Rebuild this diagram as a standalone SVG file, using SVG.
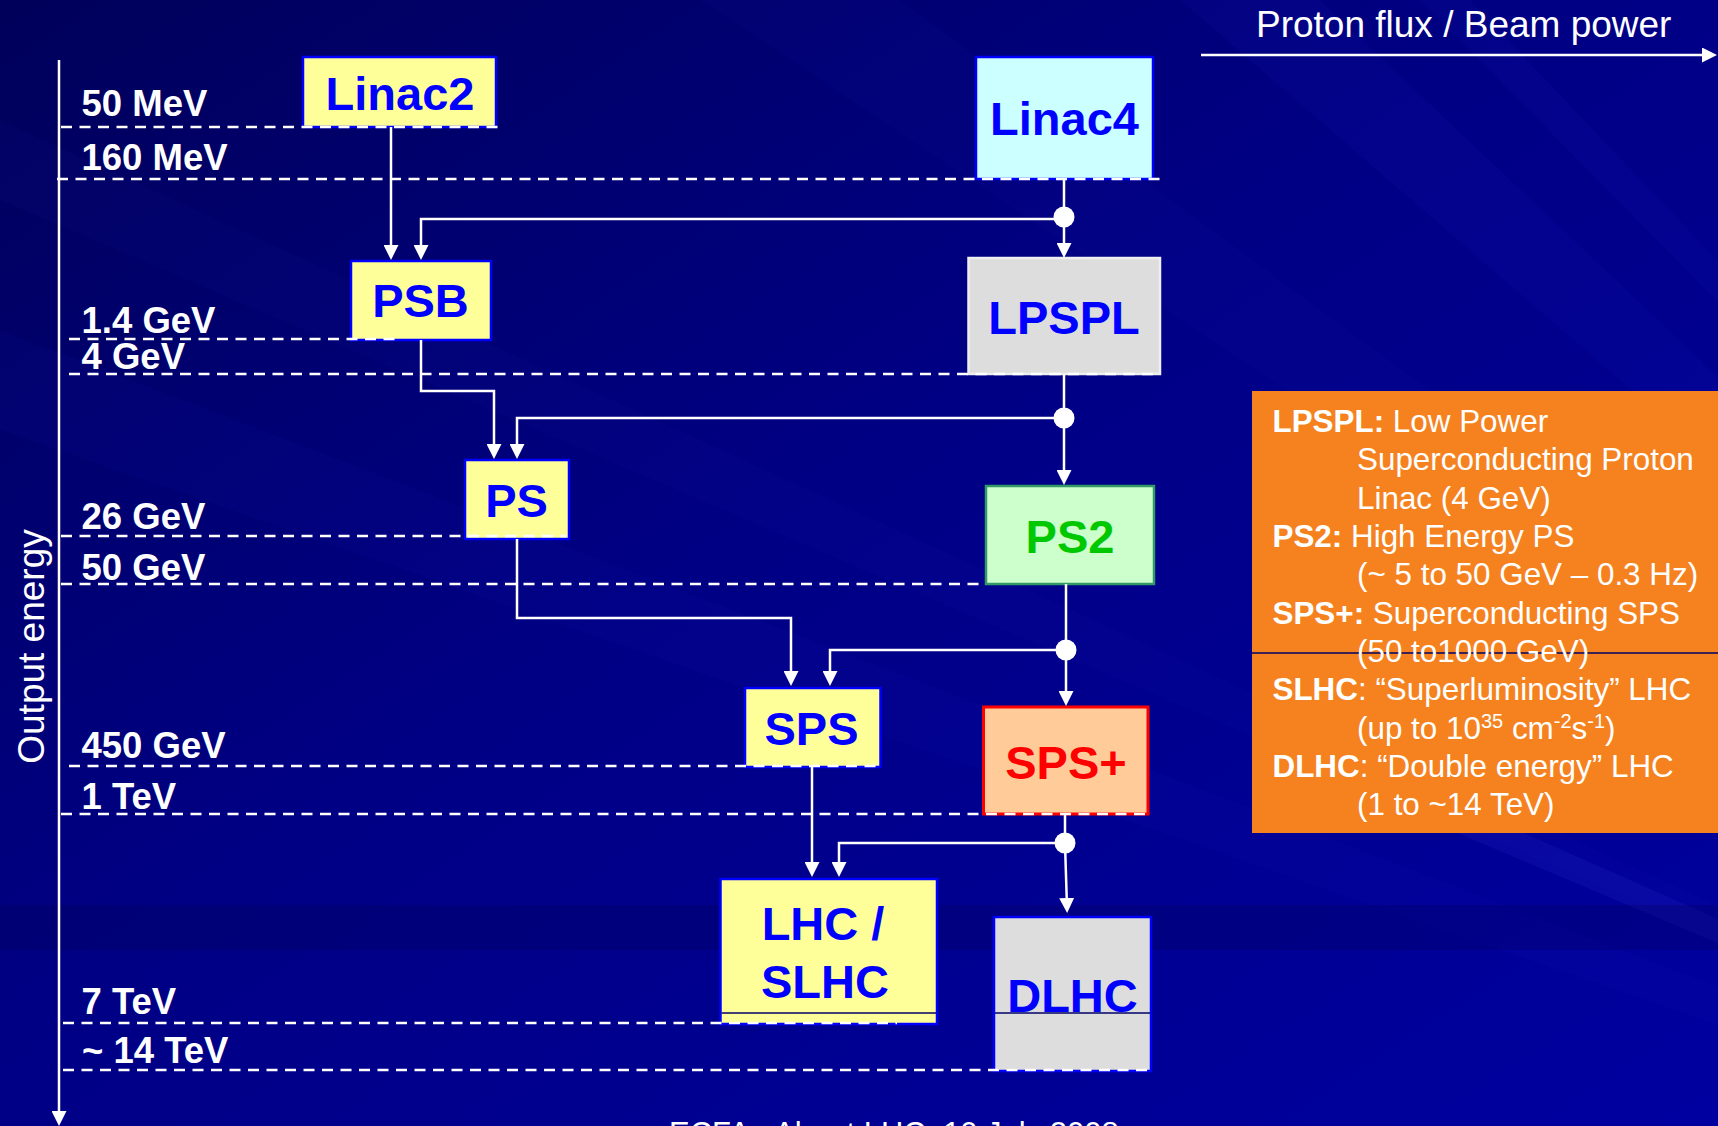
<svg xmlns="http://www.w3.org/2000/svg" width="1718" height="1126" viewBox="0 0 1718 1126">
  <defs>
    <linearGradient id="bg" x1="0" y1="0" x2="1" y2="1">
      <stop offset="0" stop-color="#00005A"/>
      <stop offset="0.45" stop-color="#000084"/>
      <stop offset="1" stop-color="#0000A0"/>
    </linearGradient>
    <marker id="arr" viewBox="0 0 15 15" markerWidth="15" markerHeight="15" refX="10" refY="7.5" orient="auto" markerUnits="userSpaceOnUse">
      <path d="M0,0 L15,7.5 L0,15 z" fill="#FFFFFF"/>
    </marker>
    <style>
      text { font-family: "Liberation Sans", Arial, sans-serif; }
      .lvl { fill: #FFFFFF; font-size: 36.5px; font-weight: bold; }
      .dash { stroke: #FFFFFF; stroke-width: 2.5; stroke-dasharray: 11 7.5; fill: none; }
      .conn { stroke: #FFFFFF; stroke-width: 2.5; fill: none; }
      .arrow { marker-end: url(#arr); }
      .dot { fill: #FFFFFF; }
      .box { stroke-width: 2.5; }
      .bt { font-size: 47px; font-weight: bold; text-anchor: middle; }
      .blue { fill: #0000FF; }
      .note { fill: #FFFFFF; font-size: 31.4px; }
      .b { font-weight: bold; }
      .sup { font-size: 20px; }
      .thin { stroke: #000066; stroke-width: 1.5; }
    </style>
  </defs>

  <!-- background -->
  <rect x="0" y="0" width="1718" height="1126" fill="url(#bg)"/>
  <g id="rays" fill="#2020C0">
    <polygon points="2800,1400 1180,0 1320,0" opacity="0.10"/>
    <polygon points="2800,1400 1420,0 1470,0" opacity="0.10"/>
    <polygon points="2800,1400 700,0 900,0" opacity="0.06"/>
    <polygon points="2800,1400 0,330 0,430" opacity="0.07"/>
    <polygon points="2800,1400 0,120 0,200" opacity="0.05"/>
    <polygon points="2800,1400 1450,800 1450,830" opacity="0.25"/>
  </g>
  <rect x="0" y="905" width="1718" height="45" fill="#000050" opacity="0.25"/>

  <!-- axes -->
  <g id="axis-energy">
    <line class="conn arrow" x1="59" y1="60" x2="59" y2="1121"/>
    <text x="0" y="0" transform="translate(44,646.5) rotate(-90)" fill="#FFFFFF" font-size="37" text-anchor="middle">Output energy</text>
  </g>
  <g id="axis-flux">
    <line class="conn arrow" x1="1201" y1="55" x2="1712" y2="55"/>
    <text x="1256" y="37" fill="#FFFFFF" font-size="37">Proton flux / Beam power</text>
  </g>

  <!-- nodes -->
  <g id="node-linac2">
    <rect class="box" x="303" y="57" width="193" height="70" fill="#FFFF99" stroke="#0000FF"/>
    <text class="bt blue" x="400" y="110">Linac2</text>
  </g>
  <g id="node-linac4">
    <rect class="box" x="976" y="57" width="177" height="122" fill="#CCFFFF" stroke="#0000FF"/>
    <text class="bt blue" x="1064.5" y="135">Linac4</text>
  </g>
  <g id="node-psb">
    <rect class="box" x="351" y="261" width="140" height="79" fill="#FFFF99" stroke="#0000FF"/>
    <text class="bt blue" x="420.5" y="317">PSB</text>
  </g>
  <g id="node-lpspl">
    <rect class="box" x="968.5" y="258" width="191.5" height="116" fill="#DDDDDD" stroke="#EEEEEE"/>
    <text class="bt blue" x="1064" y="334">LPSPL</text>
  </g>
  <g id="node-ps">
    <rect class="box" x="465" y="460" width="104" height="79" fill="#FFFF99" stroke="#0000FF"/>
    <text class="bt blue" x="516.5" y="517">PS</text>
  </g>
  <g id="node-ps2">
    <rect class="box" x="986" y="486" width="168" height="98" fill="#CCFFCC" stroke="#339966"/>
    <text class="bt" x="1070" y="553" fill="#00C800">PS2</text>
  </g>
  <g id="node-sps">
    <rect class="box" x="745" y="688" width="135.5" height="79" fill="#FFFF99" stroke="#0000FF"/>
    <text class="bt blue" x="811.5" y="745">SPS</text>
  </g>
  <g id="node-spsplus">
    <rect x="983.5" y="707" width="164.5" height="107" fill="#FFCC99" stroke="#FF0000" stroke-width="3"/>
    <text class="bt" x="1066" y="779" fill="#FF0000">SPS+</text>
  </g>
  <g id="node-lhc">
    <rect class="box" x="720.5" y="879" width="216.5" height="145" fill="#FFFF99" stroke="#0000FF"/>
    <line class="thin" x1="721.5" y1="1013" x2="936" y2="1013"/>
    <text class="bt blue" x="823" y="940">LHC /</text>
    <text class="bt blue" x="825" y="998">SLHC</text>
  </g>
  <g id="node-dlhc">
    <rect class="box" x="994" y="917" width="157" height="154" fill="#DDDDDD" stroke="#0000FF"/>
    <line class="thin" x1="995" y1="1013" x2="1150" y2="1013"/>
    <text class="bt blue" x="1072.5" y="1012">DLHC</text>
  </g>

  <!-- energy levels -->
  <g id="levels">
    <line class="dash" x1="61" y1="127" x2="499" y2="127"/>
    <line class="dash" x1="57" y1="179" x2="1162" y2="179"/>
    <line class="dash" x1="69" y1="339" x2="396" y2="339"/>
    <line class="dash" x1="69" y1="374" x2="1160" y2="374"/>
    <line class="dash" x1="61" y1="536" x2="566" y2="536"/>
    <line class="dash" x1="61" y1="584" x2="986" y2="584"/>
    <line class="dash" x1="69" y1="766" x2="882" y2="766"/>
    <line class="dash" x1="61" y1="814" x2="1150" y2="814"/>
    <line class="dash" x1="63" y1="1023" x2="897" y2="1023"/>
    <line class="dash" x1="63" y1="1070" x2="1151" y2="1070"/>
    <text class="lvl" x="81.5" y="116">50 MeV</text>
    <text class="lvl" x="81.5" y="170">160 MeV</text>
    <text class="lvl" x="81.5" y="333">1.4 GeV</text>
    <text class="lvl" x="81.5" y="369">4 GeV</text>
    <text class="lvl" x="81.5" y="529">26 GeV</text>
    <text class="lvl" x="81.5" y="580">50 GeV</text>
    <text class="lvl" x="81.5" y="758">450 GeV</text>
    <text class="lvl" x="81.5" y="809">1 TeV</text>
    <text class="lvl" x="81.5" y="1014">7 TeV</text>
    <text class="lvl" x="82" y="1063">~ 14 TeV</text>
  </g>

  <!-- connectors -->
  <g id="connectors">
    <path class="conn arrow" d="M391,127 V255"/>
    <path class="conn" d="M1064,179 V217"/>
    <path class="conn arrow" d="M1064,217 V253"/>
    <path class="conn arrow" d="M1064,219 H421 V255"/>
    <path class="conn arrow" d="M421,340 V391 H494 V454"/>
    <path class="conn" d="M1064,374 V418"/>
    <path class="conn arrow" d="M1064,418 V480"/>
    <path class="conn arrow" d="M1064,418 H517 V454"/>
    <path class="conn arrow" d="M517,539 V618 H791 V681"/>
    <path class="conn" d="M1066,584 V650"/>
    <path class="conn arrow" d="M1066,650 H830 V681"/>
    <path class="conn arrow" d="M1066,650 V701"/>
    <path class="conn arrow" d="M812,767 V872"/>
    <path class="conn" d="M1065,814 V843"/>
    <path class="conn arrow" d="M1065,843 H839 V872"/>
    <path class="conn arrow" d="M1065,843 L1067,908"/>
    <circle class="dot" cx="1064" cy="217" r="10.5"/>
    <circle class="dot" cx="1064" cy="418" r="10.5"/>
    <circle class="dot" cx="1066" cy="650" r="10.5"/>
    <circle class="dot" cx="1065" cy="843" r="10.5"/>
  </g>

  <!-- legend -->
  <g id="legend">
    <rect x="1252" y="391" width="470" height="442" fill="#F5821F"/>
    <line class="thin" x1="1252" y1="653" x2="1718" y2="653"/>
    <text class="note" x="1272.5" y="432"><tspan class="b">LPSPL:</tspan> Low Power</text>
    <text class="note" x="1357" y="470">Superconducting Proton</text>
    <text class="note" x="1357" y="508.5">Linac (4 GeV)</text>
    <text class="note" x="1272.5" y="547"><tspan class="b">PS2:</tspan> High Energy PS</text>
    <text class="note" x="1357" y="585">(~ 5 to 50 GeV – 0.3 Hz)</text>
    <text class="note" x="1272.5" y="623.5"><tspan class="b">SPS+:</tspan> Superconducting SPS</text>
    <text class="note" x="1357" y="662">(50 to1000 GeV)</text>
    <text class="note" x="1272.5" y="700"><tspan class="b">SLHC</tspan>: “Superluminosity” LHC</text>
    <text class="note" x="1357" y="738.5">(up to 10<tspan class="sup" dy="-11">35</tspan><tspan dy="11"> cm</tspan><tspan class="sup" dy="-11">-2</tspan><tspan dy="11">s</tspan><tspan class="sup" dy="-11">-1</tspan><tspan dy="11">)</tspan></text>
    <text class="note" x="1272.5" y="777"><tspan class="b">DLHC</tspan>: “Double energy” LHC</text>
    <text class="note" x="1357" y="815">(1 to ~14 TeV)</text>
  </g>

  <g id="footer">
    <text x="669" y="1144" fill="#FFFFFF" font-size="31">ECFA - About LHC, 10 July 2008</text>
  </g>
</svg>
